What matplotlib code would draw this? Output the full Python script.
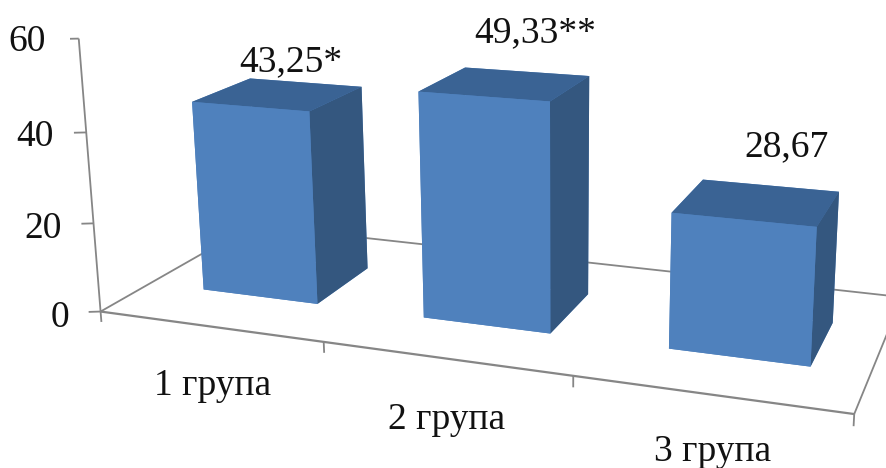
import matplotlib
matplotlib.use('Agg')
import matplotlib.pyplot as plt

groups = ['1 група', '2 група', '3 група']
values = [43.25, 49.33, 28.67]
value_labels = ['43,25*', '49,33**', '28,67']
z_ticks = [0, 20, 40, 60]

plt.rcParams['font.family'] = 'Liberation Serif'

FRONT = '#4F81BD'
TOP = '#3A6394'
SIDE = '#34577F'
AXIS = '#868686'
TEXT = '#111111'

W, H = 887, 468
side = 842
left, bottom = 70, -136

# label nudges, in axis units
label_dx = [0.58, 0.64, 0.62]
label_dz = [7.5, 11, 11.7]
group_dx = [0.5, 0.5, 0.515]
group_z = [-13.6, -13.2, -11.7]

fig = plt.figure(figsize=(W / 100, H / 100), dpi=100)
ax = fig.add_axes([left / W, bottom / H, side / W, side / H], projection='3d')
ax.set_proj_type('persp', focal_length=0.355)
ax.view_init(elev=15.4, azim=-69.1, roll=0.55)
ax.set_box_aspect((1, 0.41, 0.371))
ax.set_xlim(0, 3)
ax.set_ylim(0, 1)
ax.set_zlim(0, 60)
ax.set_xticks([])
ax.set_yticks([])
ax.set_zticks([])
ax.set_axis_off()
ax.computed_zorder = False


def line(xs, ys, zs, lw=1.3):
    ax.plot(xs, ys, zs, color=AXIS, lw=lw, zorder=1, solid_capstyle='butt')


# floor and value axis
line([0, 0], [0, 1], [0, 0])
line([0, 3], [1, 1], [0, 0])
line([3, 3], [0, 1], [0, 0])
line([0, 3], [0, 0], [0, 0], lw=1.6)
line([0, 0], [0, 0], [0, 60])
for v in z_ticks:
    line([0, -0.043], [0, -0.016], [v, v])
    ax.text(-0.08, -0.08, v, str(v), fontsize=27, color=TEXT, ha='right', va='center')
for i in range(len(groups) + 1):
    line([i, i], [0, 0], [0, -2.4])

bar_start = 0.255
bar_width = 0.53
bar_front = 0.30
bar_depth = 0.385
for i, v in enumerate(values):
    # bottom, top, front, back, left, right
    faces = [FRONT, TOP, FRONT, FRONT, FRONT, SIDE]
    ax.bar3d(i + bar_start, bar_front, 0, bar_width, bar_depth, v, color=faces, shade=False,
             linewidth=0, zorder=2 + i)
    ax.text(i + label_dx[i], 0.5, v + label_dz[i], value_labels[i], fontsize=27, color=TEXT,
            ha='center', va='center', zorder=10)
    ax.text(i + group_dx[i], 0, group_z[i], groups[i], fontsize=27, color=TEXT,
            ha='center', va='center', zorder=10)

fig.savefig('out.png', dpi=100)
